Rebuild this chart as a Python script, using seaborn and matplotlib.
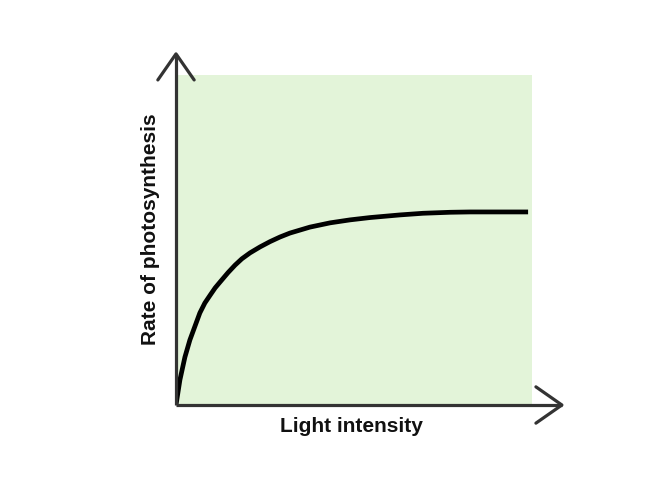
import seaborn as sns
import pandas as pd
import matplotlib.pyplot as plt

# curve (0-100 scale on both axes)
light = [0, 1.1, 2.5, 3.9, 6.7, 8.1, 9.6, 11.0, 12.4, 14.6, 16.6, 18.5, 20.8, 23.6,
         26.4, 29.2, 32.0, 37.6, 43.3, 48.9, 54.5, 62.9, 69.4, 77.0, 82.6, 98.9]
rate = [0, 7.6, 14.5, 19.7, 27.9, 30.9, 33.3, 35.5, 37.3, 40.1, 42.4, 44.3, 46.1, 47.9,
        49.5, 50.9, 52.1, 53.9, 55.2, 56.1, 56.8, 57.6, 58.1, 58.4, 58.5, 58.5]

df = pd.DataFrame({"light": light, "rate": rate})

sns.set_style("white")
plt.rcParams['font.family'] = ['Liberation Sans', 'DejaVu Sans']

fig = plt.figure(figsize=(6.67, 5), dpi=100)
ax = fig.add_axes([176 / 667, 95 / 500, 356 / 667, 330 / 500])
ax.set_facecolor("#e3f4d9")

sns.lineplot(data=df, x="light", y="rate", color="black", linewidth=3.4, ax=ax,
             solid_capstyle="butt", solid_joinstyle="round")

ax.set_xlim(0, 100)
ax.set_ylim(0, 100)
for s in ax.spines.values():
    s.set_visible(False)
ax.set_xticks([])
ax.set_yticks([])
ax.set_xlabel("")
ax.set_ylabel("")

axis_col = "#333333"
# axes with open arrow heads
ax.plot([0, 0], [0, 106.4], color=axis_col, lw=2.3, clip_on=False, solid_capstyle="butt")
ax.plot([0, 108.4], [0, 0], color=axis_col, lw=2.3, clip_on=False, solid_capstyle="butt")
ax.plot([-5.1, 0, 5.1], [98.5, 106.4, 98.5], color=axis_col, lw=2.3, clip_on=False)
ax.plot([101.1, 108.4, 101.1], [5.5, 0, -5.5], color=axis_col, lw=2.3, clip_on=False)

ax.text(49.4, -6.4, "Light intensity", ha="center", va="center", fontsize=15,
        fontweight="bold", color="#111111", clip_on=False)
ax.text(-7.3, 53.3, "Rate of photosynthesis", ha="center", va="center", fontsize=15,
        fontweight="bold", color="#111111", rotation=90, clip_on=False)

fig.savefig("out.png", dpi=100)
